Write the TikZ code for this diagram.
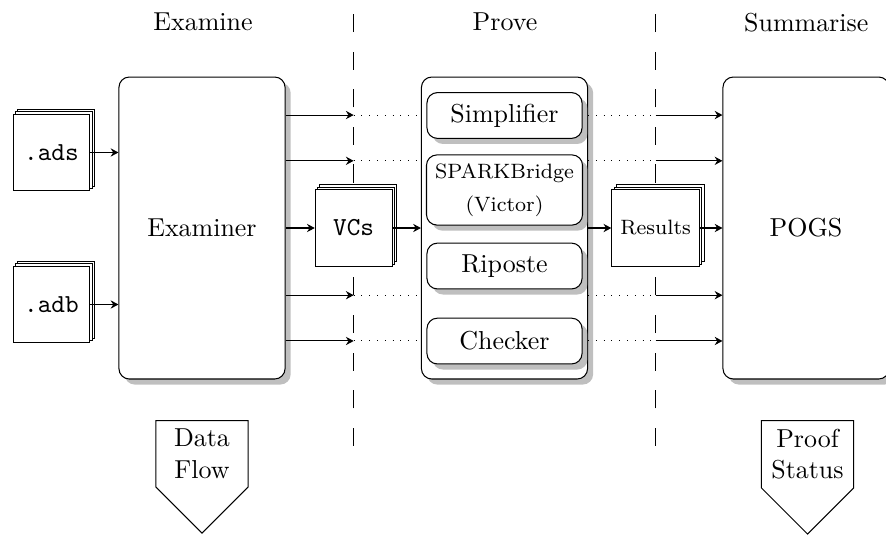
\documentclass[tikz,border=0pt]{standalone}
\usepackage{tikz}
\usetikzlibrary{shapes,arrows.meta,calc,shadows}

\begin{document}
\begin{tikzpicture}[
    flow/.style={-{Stealth[length=3pt,width=3.2pt,inset=1pt]}},
    gap/.style={dash pattern=on 0.4pt off 2.6pt},
    cut/.style={dash pattern=on 7pt off 7.5pt},
    stage/.style={draw, rounded corners=4pt, fill=white, drop shadow,
                  minimum width=2.25cm, minimum height=4.09cm},
    tool/.style={draw, rounded corners=4pt, fill=white, drop shadow,
                 minimum width=2.1cm, minimum height=0.62cm},
    docstack/.style={draw, fill=white, minimum size=1.04cm, font=\ttfamily,
                     general shadow={draw, fill=white, shadow xshift=1.8pt, shadow yshift=1.8pt},
                     general shadow={draw, fill=white, shadow xshift=0.9pt, shadow yshift=0.9pt}},
    legend/.style={draw, signal, signal to=south, signal from=nowhere,
                   minimum width=1.25cm, align=center}]
  \useasboundingbox (0,0) rectangle (12,-7.26);

  \node (hExamine) at (2.75,-0.30) {Examine};
  \node (hProve) at (6.84,-0.30) {Prove};
  \node (hSummarise) at (10.92,-0.30) {Summarise};

  \coordinate (cutAtop) at (4.79,-0.163);
  \coordinate (cutA) at (4.79,-6.04);
  \coordinate (cutBtop) at (8.88,-0.163);
  \coordinate (cutB) at (8.88,-6.04);
  \draw[cut] (cutA) -- (cutAtop);
  \draw[cut] (cutB) -- (cutBtop);

  \node[stage] (Examiner) at (2.736,-3.088) {Examiner};
  \node[stage] (Prove) at (6.833,-3.088) {};
  \node[stage] (POGS) at (10.917,-3.088) {POGS};

  \node[tool] (Simplifier) at (6.833,-1.564) {Simplifier};
  \node[tool, minimum height=0.95cm, font=\footnotesize, align=center] (Bridge)
    at (6.833,-2.573) {SPARKBridge\\[3pt](Victor)};
  \node[tool] (Riposte) at (6.833,-3.603) {Riposte};
  \node[tool] (Checker) at (6.833,-4.619) {Checker};

  \node[docstack] (ads) at (0.697,-2.065) {.ads};
  \node[docstack] (adb) at (0.697,-4.124) {.adb};
  \node[docstack] (VCs) at (4.79,-3.088) {VCs};
  \node[docstack, font=\footnotesize] (Results) at (8.88,-3.088) {Results};

  \draw[flow] (ads.east) -- (ads.east -| Examiner.west);
  \draw[flow] (adb.east) -- (adb.east -| Examiner.west);
  \draw[flow] (Examiner.east) -- (VCs.west);
  \draw[flow] (VCs.east) -- (Prove.west);
  \draw[flow] (Prove.east) -- (Results.west);
  \draw[flow] (Results.east) -- (POGS.west);

  \foreach \dy [count=\i] in {1.53,0.91,-0.91,-1.53}{
    \coordinate (rowL\i) at ($(Examiner.east)+(0,\dy)$);
    \coordinate (cutL\i) at (rowL\i -| cutA);
    \coordinate (cutR\i) at (rowL\i -| cutB);
    \draw[flow] (rowL\i) -- (cutL\i);
    \draw[gap] (cutL\i) -- (cutL\i -| Prove.west);
    \draw[gap] (Prove.east |- cutR\i) -- (cutR\i);
    \draw[flow] (cutR\i) -- (cutR\i -| POGS.west);
  }

  \node[legend, anchor=north] (dataflow) at (2.736,-5.689) {Data\\Flow};
  \node[legend, anchor=north] (proofstatus) at (10.937,-5.689) {Proof\\Status};
\end{tikzpicture}
\end{document}
